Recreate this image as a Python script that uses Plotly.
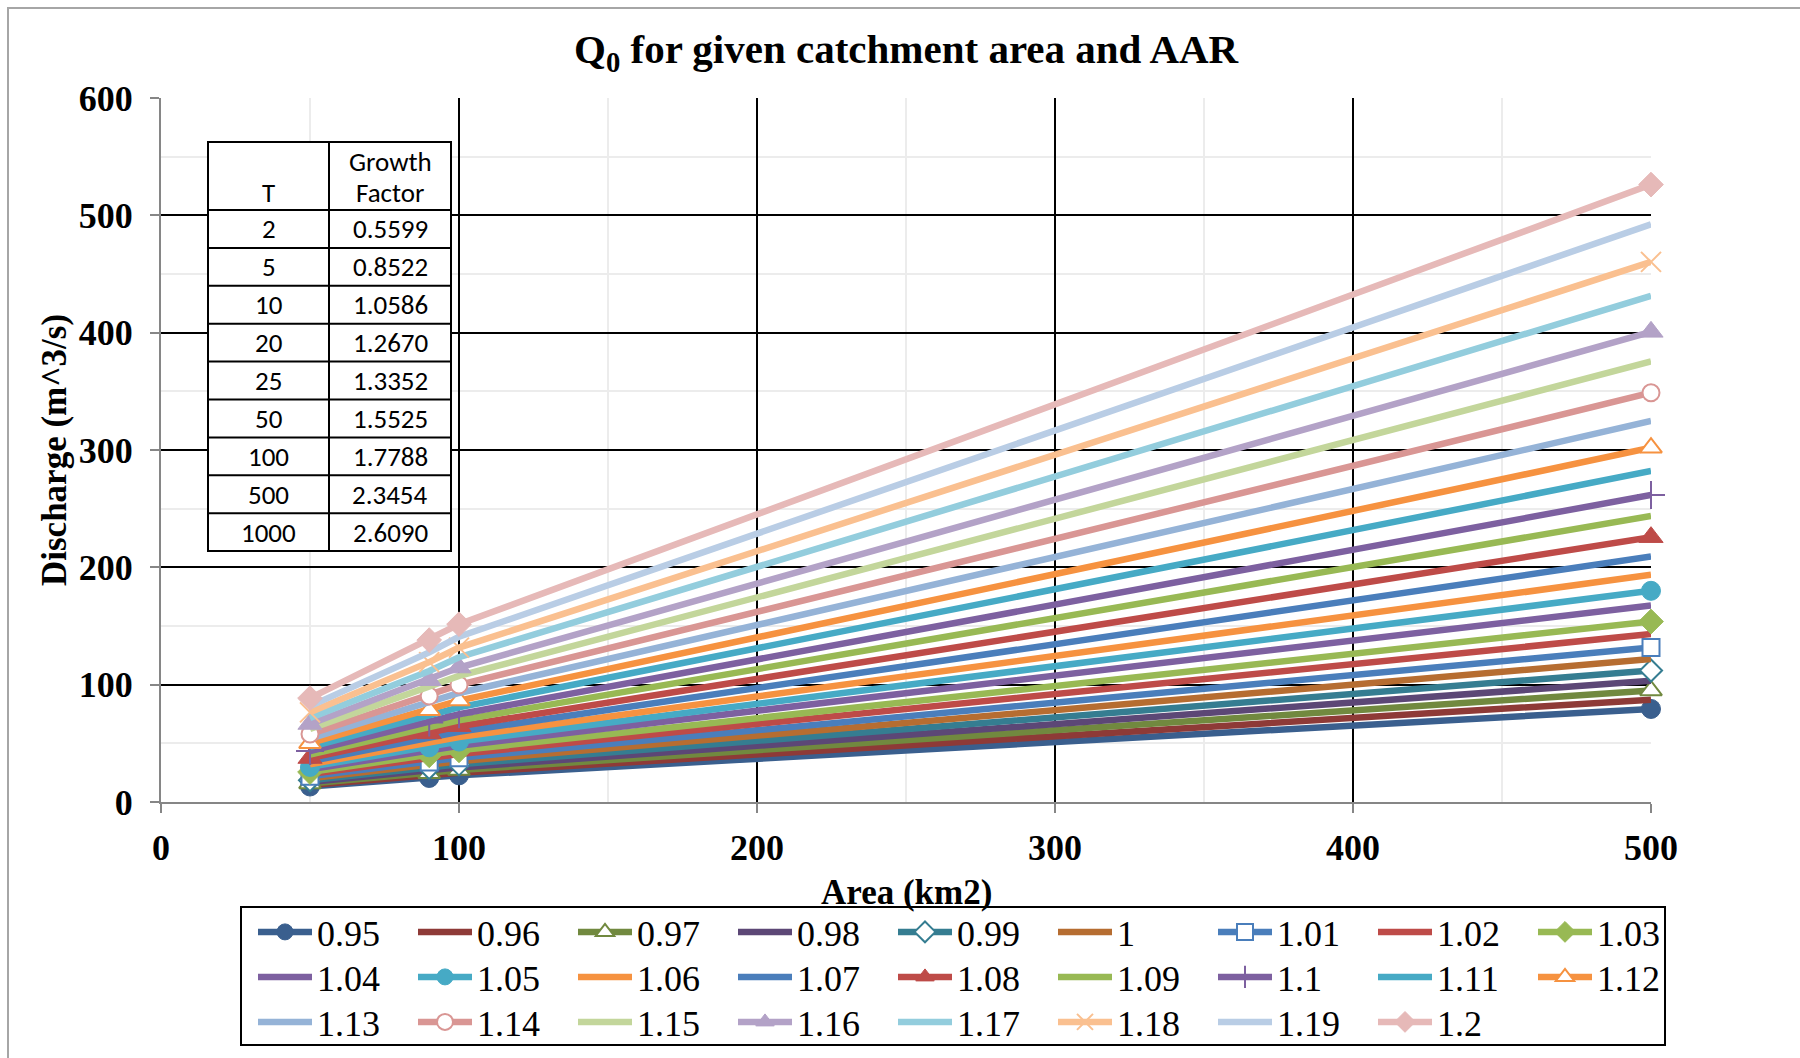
import plotly.graph_objects as go

# ---------------- data ----------------
aar_labels = ["0.95", "0.96", "0.97", "0.98", "0.99", "1", "1.01", "1.02", "1.03",
              "1.04", "1.05", "1.06", "1.07", "1.08", "1.09", "1.1", "1.11", "1.12",
              "1.13", "1.14", "1.15", "1.16", "1.17", "1.18", "1.19", "1.2"]
area_km2 = [50, 90, 100, 500]
q_050 = [13.2, 14.5, 15.8, 17.1, 18.6, 20.2, 21.9, 23.8, 25.5, 27.8, 29.9, 32.1, 34.7,
         37.5, 40.5, 43.4, 46.8, 50.1, 53.9, 57.9, 62.3, 66.5, 71.6, 76.4, 81.7, 88.5]
q_090 = [20.5, 22.6, 24.6, 26.8, 29.0, 31.5, 34.1, 37.1, 39.8, 43.4, 46.6, 50.1, 54.2,
         58.5, 63.1, 67.8, 73.1, 78.2, 84.1, 90.3, 97.3, 103.8, 111.7, 119.2, 127.5, 138.0]
q_100 = [22.7, 24.9, 27.2, 29.5, 32.1, 34.8, 37.7, 40.9, 44.0, 47.9, 51.5, 55.4, 59.8,
         64.6, 69.7, 74.8, 80.7, 86.4, 92.9, 99.8, 107.4, 114.6, 123.4, 131.6, 140.8, 151.5]
q_500 = [79.3, 87.2, 95.1, 103.3, 112.1, 121.8, 131.7, 143.1, 153.8, 167.5, 180.0, 193.6, 209.2,
         225.7, 243.8, 261.7, 282.1, 302.0, 324.7, 348.8, 375.5, 400.7, 431.4, 460.3, 492.4, 526.2]

table_T = ["2", "5", "10", "20", "25", "50", "100", "500", "1000"]
table_growth = ["0.5599", "0.8522", "1.0586", "1.2670", "1.3352", "1.5525", "1.7788", "2.3454", "2.6090"]

# ---------------- styles ----------------
colors = ["#3A5F8E", "#8E3A37", "#71893F", "#5C4776", "#357D91", "#B66D31",
          "#4A7EBB", "#BE4B48", "#98B954", "#7D60A0", "#46AAC5", "#F69240",
          "#4A7EBB", "#BE4B48", "#98B954", "#7D60A0", "#46AAC5", "#F69240",
          "#95B3D7", "#D99694", "#C3D69B", "#B3A2C7", "#93CDDD", "#FAC090",
          "#B9CDE5", "#E6B9B8"]
# (symbol, filled)
markers = [("circle", True), None, ("triangle-up", False), None, ("diamond", False), None,
           ("square", False), None, ("diamond", True), None, ("circle", True), None,
           None, ("triangle-up", True), None, ("cross-thin", True), None, ("triangle-up", False),
           None, ("circle", False), None, ("triangle-up", True), None, ("x-thin", True),
           None, ("diamond", True)]

W, H = 1800, 1058
L, R, T, B = 161, 149, 98, 256
PW, PH = W - L - R, H - T - B


def px(x):
    return (x - L) / PW


def py(y):
    return (H - B - y) / PH


SERIF = "Times New Roman, Liberation Serif, serif"
TABLE_FONT = "Calibri, Carlito, Lato, sans-serif"
PER_ROW = 9
legend_ids = ["legend", "legend2", "legend3"]

fig = go.Figure()
for i, name in enumerate(aar_labels):
    ys = [q_050[i], q_090[i], q_100[i], q_500[i]]
    m = markers[i]
    kw = dict(x=area_km2, y=ys, name=name, line=dict(color=colors[i], width=6.5),
              cliponaxis=False, legend=legend_ids[i // PER_ROW])
    if m is None:
        kw["mode"] = "lines"
    else:
        sym, filled = m
        kw["mode"] = "lines+markers"
        big = 2 if sym.startswith("triangle") else 0
        if sym in ("cross-thin", "x-thin"):
            kw["marker"] = dict(symbol=sym, size=20, color=colors[i],
                                line=dict(color=colors[i], width=2))
        elif filled:
            kw["marker"] = dict(symbol=sym, size=19 + big, color=colors[i],
                                line=dict(color=colors[i], width=1))
        else:
            kw["marker"] = dict(symbol=sym, size=17 + big, color="white",
                                line=dict(color=colors[i], width=2))
    fig.add_trace(go.Scatter(**kw))

# ---------------- inset table (shapes + text) ----------------
tx0, tx1, tx2 = 208, 329, 451
ty0, ty_head = 142, 210
row_h = 37.9
n_rows = len(table_T)
ty_end = ty_head + row_h * n_rows
shapes = []
shapes.append(dict(type="rect", xref="paper", yref="paper", x0=px(tx0), x1=px(tx2),
                   y0=py(ty_end), y1=py(ty0), fillcolor="white",
                   line=dict(color="black", width=2), layer="above"))
shapes.append(dict(type="line", xref="paper", yref="paper", x0=px(tx1), x1=px(tx1),
                   y0=py(ty_end), y1=py(ty0), line=dict(color="black", width=2), layer="above"))
row_edges = [ty_head + row_h * k for k in range(n_rows)]
for yy in row_edges:
    shapes.append(dict(type="line", xref="paper", yref="paper", x0=px(tx0), x1=px(tx2),
                       y0=py(yy), y1=py(yy), line=dict(color="black", width=2), layer="above"))

# outer chart border (extends past the right/bottom edges like the original crop)
shapes.append(dict(type="rect", xref="paper", yref="paper", x0=px(8), x1=px(1830),
                   y0=py(1090), y1=py(8), line=dict(color="#A6A6A6", width=2), layer="below"))
# legend box
shapes.append(dict(type="rect", xref="paper", yref="paper", x0=px(241), x1=px(1665),
                   y0=py(1045), y1=py(907), line=dict(color="black", width=2),
                   fillcolor="rgba(0,0,0,0)", layer="above"))

annotations = []
tfont = dict(family=TABLE_FONT, size=27, color="black")
annotations.append(dict(text="T", x=px((tx0 + tx1) / 2), y=py(193), xref="paper", yref="paper",
                        showarrow=False, font=tfont, xanchor="center", yanchor="middle"))
annotations.append(dict(text="Growth", x=px((tx1 + tx2) / 2), y=py(161), xref="paper", yref="paper",
                        showarrow=False, font=tfont, xanchor="center", yanchor="middle"))
annotations.append(dict(text="Factor", x=px((tx1 + tx2) / 2), y=py(193), xref="paper", yref="paper",
                        showarrow=False, font=tfont, xanchor="center", yanchor="middle"))
for k in range(n_rows):
    yc = ty_head + row_h * (k + 0.5)
    annotations.append(dict(text=table_T[k], x=px((tx0 + tx1) / 2), y=py(yc), xref="paper",
                            yref="paper", showarrow=False, font=tfont, xanchor="center",
                            yanchor="middle"))
    annotations.append(dict(text=table_growth[k], x=px((tx1 + tx2) / 2), y=py(yc), xref="paper",
                            yref="paper", showarrow=False, font=tfont, xanchor="center",
                            yanchor="middle"))

# axis titles
annotations.append(dict(text="<b>Area (km2)</b>", x=0.5, y=py(892), xref="paper", yref="paper",
                        showarrow=False, font=dict(family=SERIF, size=35, color="black"),
                        xanchor="center", yanchor="middle"))
annotations.append(dict(text="<b>Discharge (m^3/s)</b>", x=px(54), y=0.5, xref="paper", yref="paper",
                        showarrow=False, textangle=-90,
                        font=dict(family=SERIF, size=35, color="black"),
                        xanchor="center", yanchor="middle"))
# title
annotations.append(dict(text="<b>Q<sub>0</sub> for given catchment area and AAR</b>", x=0.5, y=py(52),
                        xref="paper", yref="paper", showarrow=False,
                        font=dict(family=SERIF, size=41, color="black"),
                        xanchor="center", yanchor="middle"))

axis_common = dict(
    showline=True, linecolor="#868686", linewidth=2,
    ticks="outside", tickcolor="#868686", ticklen=9, tickwidth=2,
    showgrid=True, gridcolor="black", gridwidth=2, zeroline=False,
    tickfont=dict(family=SERIF, size=36, color="black", weight="bold"),
)

legend_common = dict(orientation="h", xanchor="left", yanchor="middle",
                     borderwidth=0, bgcolor="rgba(0,0,0,0)",
                     font=dict(family=SERIF, size=36, color="black"),
                     itemwidth=54, entrywidth=91, entrywidthmode="pixels",
                     traceorder="normal")
row_centers = [932, 977, 1022]

fig.update_layout(
    width=W, height=H,
    margin=dict(l=L, r=R, t=T, b=B, pad=0, autoexpand=False),
    paper_bgcolor="white", plot_bgcolor="white",
    xaxis=dict(range=[0, 500], dtick=100, tick0=0,
               minor=dict(dtick=50, showgrid=True, gridcolor="#ECECEC", gridwidth=2, ticks=""),
               ticklabelstandoff=4, **axis_common),
    yaxis=dict(range=[0, 600], dtick=100, tick0=0,
               minor=dict(dtick=50, showgrid=True, gridcolor="#ECECEC", gridwidth=2, ticks=""),
               ticklabelstandoff=10, **axis_common),
    showlegend=True,
    legend=dict(x=px(253), y=py(row_centers[0]), **legend_common),
    legend2=dict(x=px(253), y=py(row_centers[1]), **legend_common),
    legend3=dict(x=px(253), y=py(row_centers[2]), **legend_common),
    shapes=shapes,
    annotations=annotations,
)

fig.write_html("out.html")
